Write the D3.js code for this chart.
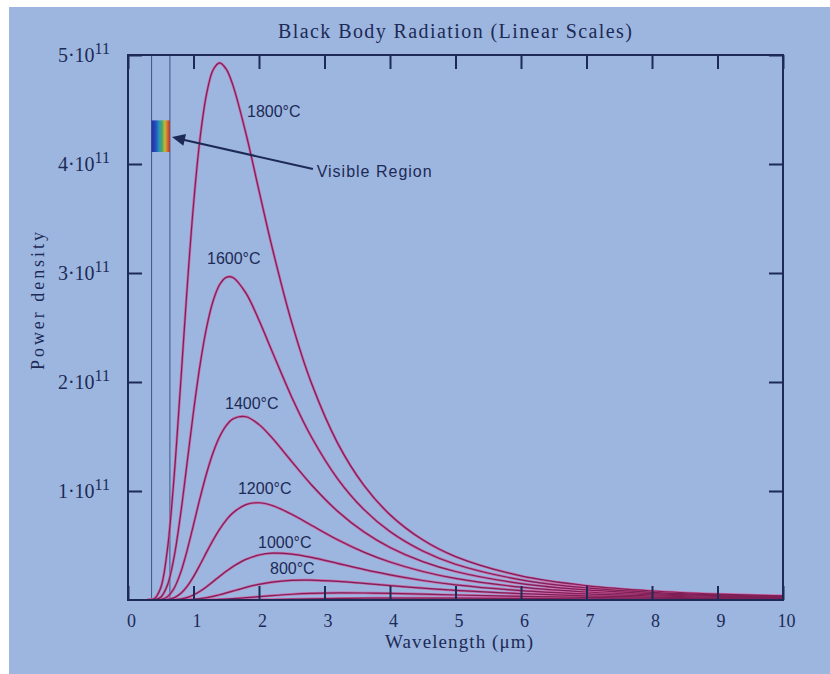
<!DOCTYPE html>
<html><head><meta charset="utf-8">
<script src="https://cdn.jsdelivr.net/npm/d3@7"></script>
<style>html,body{margin:0;padding:0;background:#fff;} svg{display:block;}</style>
</head><body><svg id="chart" width="830" height="674"></svg>
<script>
// Wavelength samples (µm)
const wavelengths = [0.3,0.4,0.5,0.6,0.7,0.8,0.9,1.0,1.1,1.2,1.3,1.4,1.5,1.6,1.8,2.0,2.2,2.5,2.8,3.2,3.6,4.0,4.5,5.0,6.0,7.0,8.0,9.0,10.0];
// Power density, in units of 10^11
const t1800 = [0.0001,0.0107,0.1123,0.4559,1.1016,1.9508,2.8394,3.6265,4.236,4.6435,4.8641,4.928,4.870,4.7256,4.2808,3.7553,3.2352,2.5451,1.9901,1.4392,1.0534,0.7827,0.5518,0.3982,0.2208,0.1313,0.0827,0.0545,0.0374];
const t1600 = [0,0.0017,0.0255,0.1326,0.3820,0.7725,1.2460,1.7277,2.1577,2.5006,2.7449,2.8942,2.9603,2.9594,2.8159,2.5671,2.2809,1.8605,1.4956,1.1122,0.8312,0.6275,0.4494,0.3283,0.1853,0.1115,0.0708,0.0470,0.0324];
const t1400 = [0,0.0002,0.0041,0.0287,0.1029,0.2452,0.4492,0.6897,0.9360,1.1626,1.3529,1.4993,1.6008,1.6612,1.6814,1.6092,1.4869,1.2698,1.0572,0.8145,0.6252,0.4819,0.3521,0.2612,0.1508,0.0922,0.0592,0.0396,0.0275];
const t1200 = [0,0,0.0004,0.0041,0.0194,0.0569,0.1227,0.2145,0.3236,0.4390,0.5504,0.6502,0.7336,0.7987,0.8752,0.8920,0.8671,0.7861,0.6852,0.5530,0.4396,0.3482,0.2613,0.1978,0.1176,0.0733,0.0478,0.0323,0.0226];
const t1000 = [0,0,0,0.0003,0.0022,0.0084,0.0223,0.0463,0.0802,0.1222,0.1691,0.2172,0.2636,0.3058,0.3723,0.4125,0.4292,0.4217,0.3910,0.3361,0.2802,0.2303,0.1791,0.1395,0.0863,0.0553,0.0368,0.0252,0.0179];
const t800  = [0,0,0,0,0.0001,0.0006,0.0021,0.0056,0.0118,0.0211,0.0335,0.0482,0.0647,0.0819,0.1154,0.1436,0.1642,0.1805,0.1826,0.1716,0.1530,0.1326,0.1086,0.0880,0.0577,0.0385,0.0263,0.0184,0.0133];
const t600  = [0,0,0,0,0,0,0.0001,0.0003,0.0007,0.0016,0.0032,0.0054,0.0084,0.0120,0.0209,0.0309,0.0406,0.0527,0.0606,0.0651,0.0643,0.0604,0.0535,0.0461,0.0330,0.0234,0.0167,0.0121,0.0089];
const t400  = [0,0,0,0,0,0,0,0,0,0,0.0001,0.0002,0.0003,0.0006,0.0014,0.0027,0.0044,0.0074,0.0105,0.0140,0.0164,0.0175,0.0177,0.0169,0.0141,0.0110,0.0085,0.0065,0.0050];

const seriesNames = ["1800°C","1600°C","1400°C","1200°C","1000°C","800°C","600°C","400°C"];
const seriesValues = [t1800,t1600,t1400,t1200,t1000,t800,t600,t400];
const labelledSeries = ["1800°C","1600°C","1400°C","1200°C","1000°C","800°C"];

const xTickValues = [0,1,2,3,4,5,6,7,8,9,10];
const yTickValues = [1,2,3,4,5];
const yTickPrefix = ["1·10","2·10","3·10","4·10","5·10"];
const yExponent = "11";
const visibleBand = [0.36, 0.64];

const titleText = "Black Body Radiation (Linear Scales)";
const xTitle = "Wavelength (μm)";
const yTitle = "Power density";
const arrowText = "Visible Region";

// annotation anchors in data units (µm, ×10^11)
const labelAnchors = [[1.817,4.431],[1.206,3.083],[1.481,1.752],[1.679,0.972],[1.985,0.477],[2.168,0.239]];
const arrowFrom = [2.824,3.954], arrowTo = [0.672,4.248];
const arrowTextAt = [2.88,3.88];
const spectrumBox = [4.11, 4.40];

const W = 830, H = 674;
const ink = "#1c2a55";
const svg = d3.select("#chart");

svg.append("rect").attr("x",9).attr("y",7).attr("width",W-9).attr("height",H-7).attr("fill","#9db6e0");

const x = d3.scaleLinear().domain([0,10]).range([128,783]);
const y = d3.scaleLinear().domain([0,5]).range([600,55]);

// visible-region guide lines
svg.selectAll("line.vis").data(visibleBand).join("line")
  .attr("x1",d=>x(d)).attr("x2",d=>x(d)).attr("y1",y(0)).attr("y2",y(5))
  .attr("stroke","#3e5488").attr("stroke-width",1);

// spectrum swatch
const defs = svg.append("defs");
const grad = defs.append("linearGradient").attr("id","spec").attr("x1","0%").attr("x2","100%");
[["0%","#2a2f9a"],["22%","#1f4fc4"],["42%","#2c95b4"],["58%","#4aa860"],["72%","#c4b83c"],["86%","#d27030"],["100%","#b8302e"]]
  .forEach(s=>grad.append("stop").attr("offset",s[0]).attr("stop-color",s[1]));
svg.append("rect").attr("x",x(visibleBand[0])).attr("width",x(visibleBand[1])-x(visibleBand[0]))
  .attr("y",y(spectrumBox[1])).attr("height",y(spectrumBox[0])-y(spectrumBox[1]))
  .attr("fill","url(#spec)");

defs.append("clipPath").attr("id","plotclip").append("rect")
  .attr("x",x(0)).attr("y",y(5)).attr("width",x(10)-x(0)).attr("height",y(0)-y(5));

const line = d3.line().x(d=>x(d[0])).y(d=>y(Math.max(0,d[1]))).curve(d3.curveCatmullRom.alpha(0.5));
const curves = seriesValues.map((vals,i)=>({name:seriesNames[i], pts:wavelengths.map((w,j)=>[w,vals[j]])}));
const cg = svg.append("g").attr("clip-path","url(#plotclip)");
cg.selectAll("path.halo").data(curves).join("path").attr("class","halo")
  .attr("d",d=>line(d.pts)).attr("fill","none").attr("stroke","#d2579a").attr("stroke-width",2.6).attr("stroke-opacity",0.85);
cg.selectAll("path.core").data(curves).join("path").attr("class","core")
  .attr("d",d=>line(d.pts)).attr("fill","none").attr("stroke","#7e1f55").attr("stroke-width",1.2);

// axes (inward ticks)
const axStyle = g=>{ g.selectAll(".domain").remove(); g.selectAll(".tick line").attr("stroke",ink).attr("stroke-width",2); };
svg.append("g").attr("transform",`translate(0,${y(0)})`)
  .call(d3.axisBottom(x).tickValues(xTickValues).tickSize(-14).tickSizeOuter(0).tickFormat(d3.format("d")).tickPadding(10))
  .call(axStyle)
  .call(g=>g.selectAll("text").attr("fill",ink).attr("font-family","'Liberation Serif',serif").attr("font-size",18).attr("dx",3).attr("dy","0.95em"));
svg.append("g").attr("transform",`translate(0,${y(5)})`)
  .call(d3.axisTop(x).tickValues(xTickValues).tickSize(-14).tickSizeOuter(0).tickFormat(""))
  .call(axStyle);
svg.append("g").attr("transform",`translate(${x(10)},0)`)
  .call(d3.axisRight(y).tickValues(yTickValues).tickSize(-14).tickSizeOuter(0).tickFormat(""))
  .call(axStyle);
const yAxis = svg.append("g").attr("transform",`translate(${x(0)},0)`)
  .call(d3.axisLeft(y).tickValues(yTickValues).tickSize(-14).tickSizeOuter(0).tickFormat(""))
  .call(axStyle);
yAxis.selectAll(".tick").each(function(d,i){
  const t = d3.select(this).append("text").attr("x",-18).attr("y",0).attr("dy","0.33em")
    .attr("text-anchor","end").attr("fill",ink).attr("font-family","'Liberation Serif',serif").attr("font-size",20);
  t.append("tspan").text(yTickPrefix[i]);
  t.append("tspan").attr("dy","-0.5em").attr("font-size",16).text(yExponent);
});

// frame
svg.append("rect").attr("x",x(0)).attr("y",y(5)).attr("width",x(10)-x(0)).attr("height",y(0)-y(5))
  .attr("fill","none").attr("stroke",ink).attr("stroke-width",2);

// curve labels
svg.selectAll("text.clab").data(labelledSeries).join("text").attr("class","clab")
  .attr("x",(d,i)=>x(labelAnchors[i][0])).attr("y",(d,i)=>y(labelAnchors[i][1]))
  .attr("fill",ink).attr("font-family","'Liberation Sans',Arial,sans-serif").attr("font-size",16)
  .text(d=>d);

// arrow annotation
svg.append("line").attr("x1",x(arrowFrom[0])).attr("y1",y(arrowFrom[1])).attr("x2",x(arrowTo[0])+8).attr("y2",y(arrowTo[1])+2)
  .attr("stroke",ink).attr("stroke-width",2);
{
  const x0=x(arrowFrom[0]), y0=y(arrowFrom[1]), x1=x(arrowTo[0]), y1=y(arrowTo[1]);
  const ang = Math.atan2(y1-y0,x1-x0), L=13, Wd=6;
  const bx = x1-L*Math.cos(ang), by = y1-L*Math.sin(ang);
  const px=-Math.sin(ang)*Wd, py=Math.cos(ang)*Wd;
  svg.append("path").attr("d",`M${x1},${y1}L${bx+px},${by+py}L${bx-px},${by-py}Z`).attr("fill",ink);
}
svg.append("text").attr("x",x(arrowTextAt[0])).attr("y",y(arrowTextAt[1]))
  .attr("fill",ink).attr("font-family","'Liberation Sans',Arial,sans-serif").attr("font-size",16)
  .attr("textLength",115).attr("lengthAdjust","spacing").text(arrowText);

// titles
svg.append("text").attr("x",455).attr("y",38).attr("text-anchor","middle")
  .attr("fill",ink).attr("font-family","'Liberation Serif',serif").attr("font-size",20)
  .attr("textLength",354).attr("lengthAdjust","spacing").text(titleText);
svg.append("text").attr("x",459).attr("y",648).attr("text-anchor","middle")
  .attr("fill",ink).attr("font-family","'Liberation Serif',serif").attr("font-size",19)
  .attr("textLength",148).attr("lengthAdjust","spacing").text(xTitle);
svg.append("text").attr("transform","translate(44,301) rotate(-90)").attr("text-anchor","middle")
  .attr("fill",ink).attr("font-family","'Liberation Serif',serif").attr("font-size",18)
  .attr("textLength",138).attr("lengthAdjust","spacing").text(yTitle);
</script></body></html>
